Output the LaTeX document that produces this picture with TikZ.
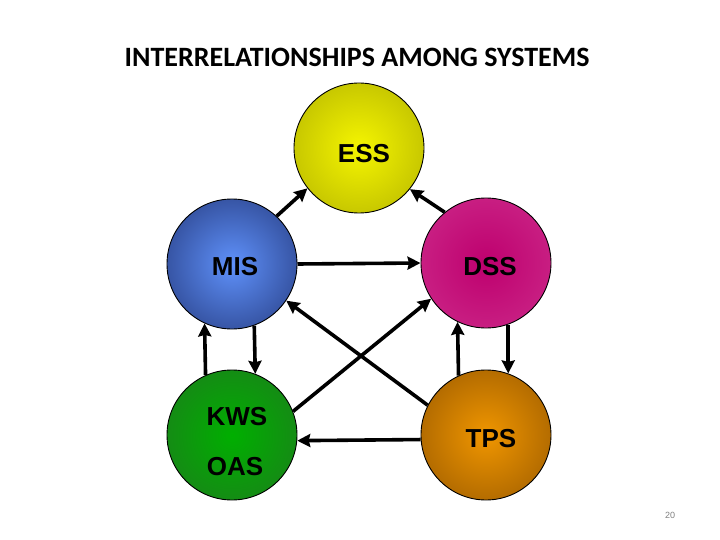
\documentclass[tikz,border=0pt]{standalone}
\usepackage{fontspec}
\setmainfont{Liberation Sans}
\newfontfamily\titlefont{Carlito}
\usetikzlibrary{arrows.meta}
\definecolor{essIn}{RGB}{245,245,0}
\definecolor{essOut}{RGB}{200,200,0}
\definecolor{misIn}{RGB}{95,145,250}
\definecolor{misOut}{RGB}{55,85,165}
\definecolor{dssIn}{RGB}{190,0,110}
\definecolor{dssOut}{RGB}{200,30,130}
\definecolor{kwsIn}{RGB}{0,175,0}
\definecolor{kwsOut}{RGB}{20,140,20}
\definecolor{tpsIn}{RGB}{240,150,0}
\definecolor{tpsOut}{RGB}{180,108,0}
\tikzset{
  sysball/.style={circle, draw=black, line width=0.9pt, minimum size=130pt, inner sep=0pt, outer sep=0pt, shading=radial},
  lbl/.style={font=\bfseries\fontsize{26}{30}\selectfont},
  conn/.style={line width=3.6pt, -{Stealth[length=13pt,width=13pt,inset=1.5pt]}, shorten <=0.5pt, shorten >=0.5pt}
}
\begin{document}
\begin{tikzpicture}[x=1pt,y=-1pt]
\useasboundingbox (0,0) rectangle (720,540);
\node[font=\titlefont\bfseries\fontsize{28}{32}\selectfont] (title) at (357,57) {INTERRELATIONSHIPS AMONG SYSTEMS};
\node[sysball, inner color=essIn, outer color=essOut] (ess) at (359,148) {};
\node[sysball, inner color=misIn, outer color=misOut] (mis) at (232,264) {};
\node[sysball, inner color=dssIn, outer color=dssOut] (dss) at (486,263) {};
\node[sysball, inner color=kwsIn, outer color=kwsOut] (kws) at (232,435) {};
\node[sysball, inner color=tpsIn, outer color=tpsOut] (tps) at (486,435) {};
\node[lbl] (essl) at (364,154) {ESS};
\node[lbl] (misl) at (235,267) {MIS};
\node[lbl] (dssl) at (490,267) {DSS};
\node[lbl] (kwsl) at (237,417) {KWS};
\node[lbl] (oasl) at (235,467) {OAS};
\node[lbl] (tpsl) at (491,439) {TPS};
\node[font=\fontsize{9}{10}\selectfont, text=gray] (page) at (670,515) {20};
% connectors
\draw[conn] (mis.47) -- (ess.218);
\draw[conn] (dss.129) -- (ess.321);
\draw[conn] (mis.east) -- (dss.west);
\draw[conn] (tps.153) -- (mis.326);
\draw[conn] (kws.21) -- (dss.213);
\draw[conn] (kws.114.5) -- (mis.245.5);
\draw[conn] (mis.290.7) -- (kws.69.3);
\draw[conn] (tps.115.5) -- (dss.244.5);
\draw[conn] (dss.290.2) -- (tps.70.2);
\draw[conn] (tps.184.4) -- (kws.355.6);
\end{tikzpicture}
\end{document}
